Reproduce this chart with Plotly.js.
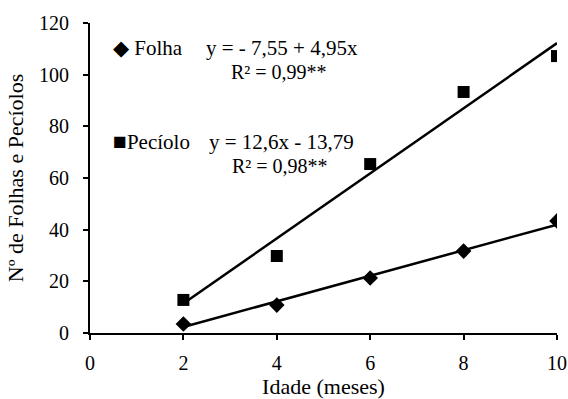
<!DOCTYPE html>
<html><head><meta charset="utf-8">
<script src="https://cdn.plot.ly/plotly-3.0.1.min.js"></script>
<style>html,body{margin:0;padding:0;background:#fff}#c{width:568px;height:399px}</style>
</head><body><div id="c"></div>
<script>
const idade = [2, 4, 6, 8, 10];
const folha = [3.5, 10.8, 21.3, 31.7, 43.4];
const peciolo = [12.8, 29.8, 65.4, 93.3, 107.2];
const fitX = [2, 10];
const folhaFit = [2.35, 41.95];
const pecioloFit = [11.4, 112.2];
const xTicks = [0, 2, 4, 6, 8, 10];
const yTicks = [0, 20, 40, 60, 80, 100, 120];

const F = 'Liberation Serif';
const traces = [
  {x: fitX, y: folhaFit, mode: 'lines', line: {color: '#000', width: 2.5}, hoverinfo: 'skip'},
  {x: fitX, y: pecioloFit, mode: 'lines', line: {color: '#000', width: 2.5}, hoverinfo: 'skip'},
  {x: idade, y: folha, mode: 'markers', marker: {symbol: 'diamond', size: 12, color: '#000'}},
  {x: idade, y: peciolo, mode: 'markers', marker: {symbol: 'square', size: 12, color: '#000'}}
];
const ann = (x, y, t, size) => ({xref: 'paper', yref: 'paper', x: x, y: y, text: t, showarrow: false, xanchor: 'left', yanchor: 'middle', font: {family: F, size: size || 20, color: '#000'}});
const W = 467, H = 310, L = 90, T = 23;
const px = (p) => (p - L) / W, py = (p) => 1 - (p - T) / H;
const layout = {
  width: 568, height: 399,
  margin: {l: L, r: 568 - L - W, t: T, b: 399 - T - H},
  showlegend: false,
  paper_bgcolor: '#fff', plot_bgcolor: '#fff',
  font: {family: F, size: 20, color: '#000'},
  xaxis: {range: [0, 10], tickvals: xTicks, ticktext: xTicks.map(String), showgrid: false, zeroline: false,
    showline: true, linecolor: '#000', linewidth: 2, ticks: 'outside', ticklen: 5, tickwidth: 2, tickcolor: '#000',
    ticklabelstandoff: 6,
    tickfont: {family: F, size: 20}, title: {text: 'Idade (meses)', font: {family: F, size: 22}, standoff: 7}},
  yaxis: {range: [0, 120], tickvals: yTicks, ticktext: yTicks.map(String), showgrid: false, zeroline: false,
    showline: true, linecolor: '#000', linewidth: 2, ticks: 'outside', ticklen: 5, tickwidth: 2, tickcolor: '#000',
    ticklabelstandoff: 10,
    tickfont: {family: F, size: 20}, title: {text: 'Nº de Folhas e Pecíolos', font: {family: F, size: 22}, standoff: 9}},
  annotations: [
    ann(px(111), py(48), '◆ Folha', 21),
    ann(px(204), py(48), 'y = - 7,55 + 4,95x', 21),
    ann(px(229), py(72), 'R² = 0,99**'),
    ann(px(111), py(142), '<span style="font-size:23px">■</span>Pecíolo', 21),
    ann(px(207), py(142), 'y = 12,6x - 13,79', 21),
    ann(px(230), py(166), 'R² = 0,98**')
  ]
};
Plotly.newPlot('c', traces, layout, {staticPlot: true, displayModeBar: false});
</script></body></html>
